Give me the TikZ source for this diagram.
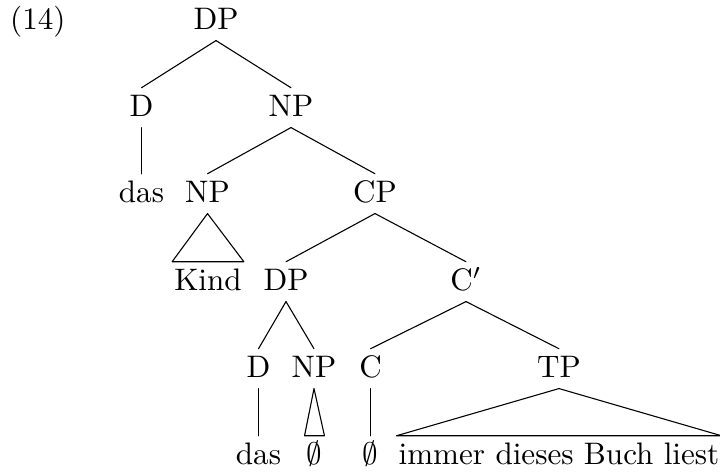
\documentclass[tikz,border=0pt]{standalone}
\begin{document}
\begin{tikzpicture}[x=0.3215pt,y=-0.3215pt,
  lab/.style={anchor=base,text height=8pt,text depth=2pt,inner ysep=1.2pt,inner xsep=0.5pt,font=\fontsize{10pt}{12pt}\selectfont},
  br/.style={line width=0.35pt,line cap=round,line join=round}]
\useasboundingbox (0,0) rectangle (720,474);
\node[lab,anchor=base west] (ex) at (8,30) {(14)};
\node[lab] (DP) at (216,30) {DP};
\node[lab] (D) at (141.5,117) {D};
\node[lab] (NP) at (291,117) {NP};
\node[lab] (das) at (141.5,203) {das};
\node[lab] (NPb) at (207.5,203) {NP};
\node[lab] (CP) at (375,203) {CP};
\node[lab] (Kind) at (208,291) {Kind};
\node[lab] (DPb) at (286,291) {DP};
\node[lab] (Cbar) at (466,291) {C$'$};
\node[lab] (Db) at (258.5,378) {D};
\node[lab] (NPc) at (314,378) {NP};
\node[lab] (C) at (370.5,378) {C};
\node[lab] (TP) at (559,378) {TP};
\node[lab] (dasb) at (258.5,465) {das};
\node[lab] (e1) at (314.5,465) {$\emptyset$};
\node[lab] (e2) at (370.5,465) {$\emptyset$};
\node[lab] (tp) at (559,465) {immer dieses Buch liest};
\draw[br] (DP.south) -- (D.north);
\draw[br] (DP.south) -- (NP.north);
\draw[br] (D.south) -- (das.north);
\draw[br] (NP.south) -- (NPb.north);
\draw[br] (NP.south) -- (CP.north);
\draw[br] (NPb.south) -- (Kind.north west) -- (Kind.north east) -- cycle;
\draw[br] (CP.south) -- (DPb.north);
\draw[br] (CP.south) -- (Cbar.north);
\draw[br] (DPb.south) -- (Db.north);
\draw[br] (DPb.south) -- (NPc.north);
\draw[br] (Cbar.south) -- (C.north);
\draw[br] (Cbar.south) -- (TP.north);
\draw[br] (Db.south) -- (dasb.north);
\draw[br] (NPc.south) -- (e1.north west) -- (e1.north east) -- cycle;
\draw[br] (C.south) -- (e2.north);
\draw[br] (TP.south) -- (tp.north west) -- (tp.north east) -- cycle;
\end{tikzpicture}
\end{document}
